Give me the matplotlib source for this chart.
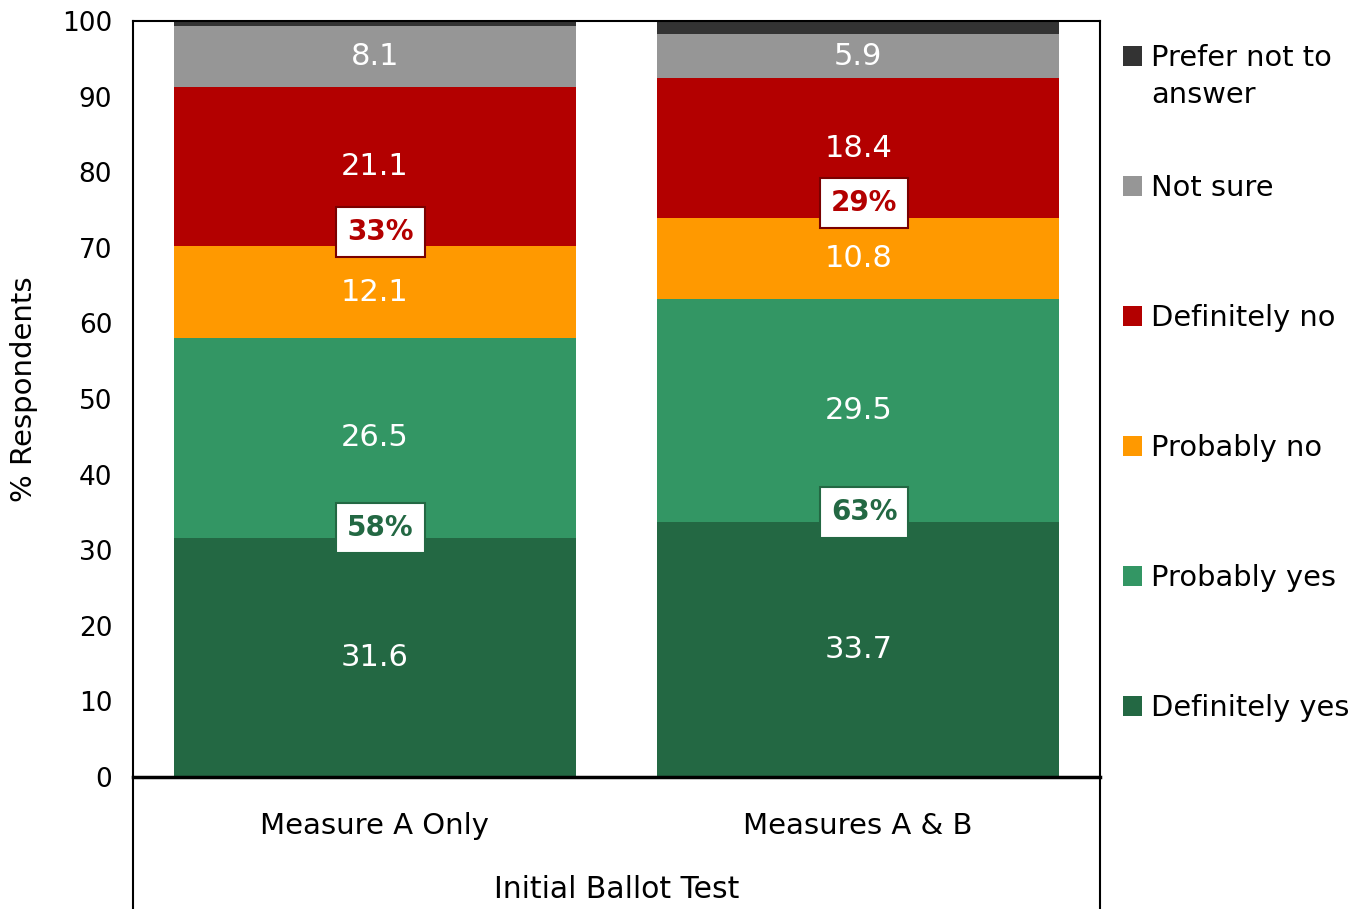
import numpy as np
import matplotlib
matplotlib.use('Agg')
import matplotlib.pyplot as plt

plt.rcParams['font.family'] = ['DejaVu Sans']

# Data
groups = ['Measure A Only', 'Measures A & B']
series = ['Definitely yes', 'Probably yes', 'Probably no', 'Definitely no', 'Not sure', 'Prefer not to answer']
values = {
    'Definitely yes': [31.6, 33.7],
    'Probably yes': [26.5, 29.5],
    'Probably no': [12.1, 10.8],
    'Definitely no': [21.1, 18.4],
    'Not sure': [8.1, 5.9],
    'Prefer not to answer': [0.6, 1.7],
}
colors = ['#236843', '#339664', '#FF9900', '#B30000', '#969696', '#333333']
yes_totals = ['58%', '63%']
no_totals = ['33%', '29%']

fig = plt.figure(figsize=(13.56, 9.09), dpi=100)
ax = fig.add_axes([0.0981, 0.1452, 0.7131, 0.8317])

x = np.arange(len(groups))
bottom = np.zeros(len(groups))
handles = []
for name, col in zip(series, colors):
    v = np.array(values[name])
    b = ax.bar(x, v, 0.832, bottom=bottom, color=col, label=name, zorder=2)
    handles.append(b)
    if name != 'Prefer not to answer':
        for xi, vi, bi in zip(x, v, bottom):
            ax.text(xi, bi + vi / 2, f'{vi:.1f}', ha='center', va='center',
                    color='white', fontsize=22, zorder=4)
    bottom = bottom + v

# Net labels
dy = np.array(values['Definitely yes'])
yes_line = dy
no_line = dy + np.array(values['Probably yes']) + np.array(values['Probably no'])
for xi, yv, t in zip(x, yes_line, yes_totals):
    ax.text(xi + 0.012, yv + 1.3, t, ha='center', va='center', fontsize=20, fontweight='bold',
            color='#236843', zorder=5,
            bbox=dict(boxstyle='square,pad=0.4', fc='white', ec='#236843', lw=1.5))
for xi, nv, t in zip(x, no_line, no_totals):
    ax.text(xi + 0.012, nv + 1.9, t, ha='center', va='center', fontsize=20, fontweight='bold',
            color='#B30000', zorder=5,
            bbox=dict(boxstyle='square,pad=0.4', fc='white', ec='#7A0000', lw=1.5))

ax.set_xlim(-0.5, 1.5)
ax.set_ylim(0, 100)
ax.set_yticks(range(0, 101, 10))
ax.tick_params(axis='y', length=0, pad=15, labelsize=19)
ax.set_xticks(x)
ax.set_xticklabels(groups, fontsize=21)
ax.tick_params(axis='x', length=0, pad=25)
for s in ax.spines.values():
    s.set_linewidth(1.5)
ax.spines['bottom'].set_linewidth(2.5)

ax.set_ylabel('% Respondents', fontsize=21)
ax.yaxis.set_label_coords(-0.098, 0.513)

# Box lines below the axis
ax.plot([0, 0], [0, -0.3], transform=ax.transAxes, color='black', lw=1.5, clip_on=False)
ax.plot([1, 1], [0, -0.3], transform=ax.transAxes, color='black', lw=1.5, clip_on=False)
ax.text(0.5, -0.149, 'Initial Ballot Test', transform=ax.transAxes, ha='center', va='center',
        fontsize=21.5)

# Legend (top entry wraps onto a second line)
labels = [s if s != 'Prefer not to answer' else 'Prefer not to' for s in series]
leg = ax.legend(handles[::-1], labels[::-1], loc='center left', bbox_to_anchor=(1.012, 0.521),
                frameon=False, fontsize=20.8, handlelength=0.66, handleheight=0.66,
                handletextpad=0.3, labelspacing=3.53, borderaxespad=0.0)
ax.annotate('answer', xy=(0, 0.5), xycoords=leg.get_texts()[0], xytext=(0, -37),
            textcoords='offset pixels', ha='left', va='center', fontsize=20.8,
            zorder=10, annotation_clip=False)

plt.savefig('out.png', dpi=100)
